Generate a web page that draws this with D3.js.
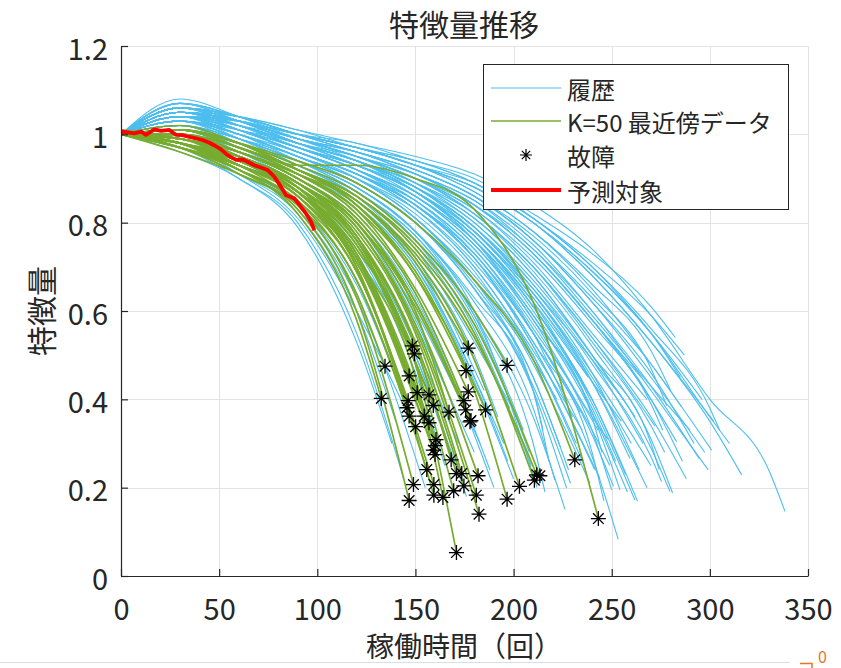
<!DOCTYPE html>
<html><head><meta charset="utf-8">
<script src="https://cdn.jsdelivr.net/npm/d3@7"></script>
<style>
body{margin:0;background:#fff;}
text{font-family:"Noto Sans CJK JP","Noto Sans",sans-serif;fill:#262626;}
</style>
</head><body>
<svg id="c" width="841" height="668"></svg>
<script>
// ---- tick values / labels ----
const xTicks = [0, 50, 100, 150, 200, 250, 300, 350];
const yTicks = [0, 0.2, 0.4, 0.6, 0.8, 1.0, 1.2];
const yTickLabels = ["0", "0.2", "0.4", "0.6", "0.8", "1", "1.2"];
const legendLabels = ["履歴", "K=50 最近傍データ", "故障", "予測対象"];

// sample times at which curve values were read
const gridX = [0, 30, 60, 90, 120, 150, 180, 210, 240, 270, 300, 330];

// ---- 履歴 (history) curves: values at gridX, then end point ----
const histY = [
 [1.00,0.97,0.91,0.82,0.60],
 [1.00,0.98,0.92,0.84,0.66],
 [1.00,0.99,0.94,0.87,0.74,0.46],
 [1.00,1.00,0.95,0.88,0.77,0.52],
 [1.00,1.01,0.96,0.89,0.79,0.57],
 [1.00,1.02,0.97,0.91,0.82,0.64],
 [1.00,1.01,0.98,0.92,0.85,0.71,0.45],
 [1.00,1.00,0.97,0.91,0.84,0.70,0.44],
 [1.00,1.00,0.95,0.89,0.76],
 [1.00,1.03,0.99,0.93,0.86,0.72],
 [1.00,1.03,0.99,0.94,0.88,0.78,0.62,0.38],
 [1.00,1.02,0.98,0.93,0.87,0.77,0.60,0.36],
 [1.00,1.04,1.00,0.95,0.89,0.80,0.65,0.42],
 [1.00,1.03,1.00,0.95,0.90,0.82,0.69,0.48],
 [1.00,1.05,1.01,0.96,0.91,0.84,0.72,0.52],
 [1.00,1.04,1.01,0.96,0.91,0.85,0.74,0.56,0.33],
 [1.00,1.03,1.00,0.95,0.90,0.83,0.71,0.53,0.27],
 [1.00,1.05,1.02,0.97,0.92,0.86,0.76,0.60,0.37],
 [1.00,1.06,1.03,0.98,0.94,0.88,0.79,0.64,0.44],
 [1.00,1.04,1.02,0.97,0.93,0.87,0.77,0.62,0.39],
 [1.00,1.05,1.01,0.97,0.92,0.86,0.76,0.61,0.40],
 [1.00,1.04,1.00,0.96,0.91,0.84,0.73,0.55,0.32],
 [1.00,1.03,1.00,0.95,0.90,0.81,0.68,0.50],
 [1.00,1.02,0.99,0.94,0.88,0.78,0.63,0.42],
 [1.00,1.01,0.98,0.93,0.87,0.76,0.58],
 [1.00,1.05,1.02,0.98,0.94,0.89,0.81,0.68,0.50,0.30],
 [1.00,1.04,1.02,0.97,0.93,0.88,0.80,0.66,0.48,0.27],
 [1.00,1.05,1.03,0.98,0.94,0.89,0.81,0.68,0.50,0.29],
 [1.00,1.06,1.03,0.99,0.95,0.90,0.82,0.69,0.52,0.31],
 [1.00,1.05,1.03,0.99,0.96,0.91,0.84,0.73,0.58,0.40],
 [1.00,1.07,1.04,1.00,0.96,0.92,0.86,0.76,0.63,0.48],
 [1.00,1.04,1.03,1.00,0.98,0.94,0.90,0.82,0.73,0.61],
 [1.00,1.05,1.03,0.99,0.95,0.91,0.85,0.75,0.60,0.43],
 [1.00,1.06,1.04,1.00,0.96,0.92,0.86,0.76,0.62,0.45],
 [1.00,1.05,1.03,0.99,0.96,0.91,0.85,0.74,0.60,0.42],
 [1.00,1.07,1.04,1.00,0.97,0.93,0.87,0.78,0.65,0.48],
 [1.00,1.06,1.04,1.00,0.97,0.93,0.88,0.80,0.68,0.53,0.35],
 [1.00,1.05,1.04,1.01,0.98,0.95,0.91,0.84,0.74,0.59,0.40,0.24],
 [1.00,1.06,1.04,1.01,0.97,0.94,0.89,0.81,0.70,0.55,0.36],
 [1.00,1.04,1.02,0.98,0.95,0.90,0.84,0.74,0.59,0.43],
 [1.00,1.05,1.03,0.99,0.96,0.92,0.86,0.77,0.64,0.47],
 [1.00,1.08,1.04,0.99,0.94,0.87,0.76,0.58,0.36],
 [1.00,1.05,1.01,0.96,0.91,0.83,0.70,0.50],
 [1.00,1.06,1.02,0.97,0.92,0.85,0.73,0.55],
 [1.00,1.04,1.02,0.98,0.94,0.88,0.79,0.66,0.49],
 [1.00,1.03,1.01,0.97,0.93,0.87,0.78,0.64,0.46],
 [1.00,1.07,1.03,0.98,0.93,0.87,0.77,0.61,0.40],
 [1.00,1.04,1.01,0.96,0.91,0.84,0.72,0.53,0.28],
 [1.00,1.03,1.00,0.95,0.89,0.80,0.65,0.42],
 [1.00,1.02,0.99,0.94,0.88,0.78,0.59],
 [1.00,1.04,1.00,0.94,0.87,0.76,0.56],
 [1.00,1.02,0.98,0.92,0.85,0.72,0.50],
 [1.00,1.05,1.02,0.98,0.94,0.89,0.82,0.70,0.54,0.36],
 [1.00,1.06,1.03,0.99,0.95,0.90,0.82,0.70,0.54],
 [1.00,1.05,1.03,0.99,0.95,0.89,0.80,0.67,0.50],
 [1.00,1.06,1.03,0.98,0.94,0.87,0.77,0.61],
 [1.00,1.01,0.96,0.90,0.80,0.58],
 [1.00,1.03,0.99,0.94,0.88,0.78,0.60],
 [1.00,1.04,1.03,1.00,0.97,0.93,0.88,0.80,0.69,0.55],
 [1.00,1.05,1.02,0.97,0.93,0.87,0.78,0.63,0.44],
 [1.00,1.07,1.04,1.00,0.96,0.92,0.86,0.76,0.62,0.46],
 [1.00,1.04,1.02,0.99,0.95,0.90,0.83,0.72,0.57,0.39],
 [1.00,1.06,1.02,0.98,0.94,0.88,0.79,0.65,0.46],
 [1.00,1.05,1.02,0.97,0.93,0.86,0.75,0.58,0.36],
 [1.00,1.03,1.01,0.98,0.94,0.88,0.78,0.63,0.44],
 [1.00,1.04,1.01,0.96,0.91,0.83,0.70,0.51],
 [1.00,1.02,0.99,0.95,0.89,0.80,0.66,0.45],
 [1.00,1.05,1.03,1.00,0.97,0.93,0.87,0.78,0.66,0.51],
 [1.00,1.06,1.04,1.00,0.97,0.93,0.88,0.80,0.68,0.53],
 [1.00,1.05,1.03,0.99,0.95,0.90,0.83,0.71,0.55],
 [1.00,1.04,1.01,0.97,0.92,0.86,0.75,0.59,0.37],
 [1.00,1.03,1.00,0.96,0.91,0.84,0.72,0.52],
 [1.00,1.05,1.03,0.99,0.95,0.91,0.84,0.73,0.58,0.40],
 [1.00,1.05,1.03,1.00,0.97,0.93,0.88,0.80,0.69,0.55],
 [1.00,1.04,1.00,0.95,0.90,0.81,0.67,0.45],
 [1.00,1.06,1.03,0.98,0.93,0.87,0.76,0.59,0.38],
 [1.00,1.06,1.03,0.99,0.95,0.90,0.82,0.70,0.53,0.34],
 [1.00,1.04,1.03,1.00,0.97,0.94,0.89,0.81,0.70,0.56,0.38],
 [1.00,1.05,1.02,0.98,0.94,0.88,0.78,0.64,0.45],
 [1.00,1.07,1.03,0.98,0.94,0.87,0.77,0.62],
 [1.00,0.96,0.90,0.79,0.53],
 [1.00,0.97,0.90,0.80,0.55],
 [1.00,0.98,0.91,0.81,0.60],
 [1.00,0.97,0.92,0.83,0.63],
 [1.00,0.99,0.94,0.86,0.72,0.50],
 [1.00,0.99,0.94,0.87,0.75,0.50],
 [1.00,1.02,0.97,0.90,0.80,0.60],
 [1.00,1.00,0.96,0.90,0.81,0.63],
 [1.00,1.03,0.98,0.92,0.84,0.70,0.45],
 [1.00,1.02,0.98,0.93,0.86,0.74,0.53],
 [1.00,1.04,0.99,0.93,0.86,0.75,0.55],
 [1.00,1.03,0.99,0.94,0.87,0.77,0.59,0.30],
 [1.00,1.05,1.01,0.96,0.90,0.81,0.67,0.49],
 [1.00,1.04,1.00,0.95,0.89,0.80,0.65,0.43],
 [1.00,1.05,1.02,0.97,0.92,0.84,0.72,0.55],
 [1.00,1.06,1.02,0.97,0.92,0.85,0.74,0.57],
 [1.00,1.05,1.01,0.96,0.91,0.84,0.73,0.55,0.33],
 [1.00,1.06,1.03,0.98,0.94,0.88,0.79,0.65,0.49],
 [1.00,1.05,1.03,0.99,0.96,0.91,0.84,0.73,0.58],
 [1.00,1.06,1.04,1.00,0.97,0.93,0.89,0.81,0.71,0.59]
];
const histEndT = [140,152,165,172,180,188,195,200,158,185,
 221,226.2,227,238.9,241.3,250,253.3,254.2,259.3,261.8,
 263.2,250.9,232,215,208,274.2,275.4,279.7,281,283.1,
 285.6,282.4,294.7,297.4,299.2,300.9,316.2,338.3,310,290,
 278,245,236,230,266,270,257,246,218,205,
 198,192,288,272,262,240,170,212,285,268,
 292,276,264,248,255,235,224,280,302,268,
 258,244,286,296,228,252,277,305,260,238,
 138,144,150,155,162,176,183,190,197,202,
 209,216,222,229,234,243,249,256,265,287];
const histEndV = [0.35,0.30,0.25,0.30,0.28,0.24,0.30,0.22,0.40,0.42,
 0.217,0.151,0.199,0.210,0.241,0.195,0.083,0.195,0.266,0.172,
 0.169,0.203,0.30,0.33,0.28,0.241,0.214,0.191,0.188,0.304,
 0.383,0.540,0.265,0.28,0.240,0.285,0.229,0.146,0.30,0.33,
 0.386,0.28,0.25,0.36,0.30,0.25,0.23,0.17,0.26,0.33,
 0.38,0.36,0.22,0.34,0.36,0.40,0.38,0.20,0.45,0.20,
 0.30,0.33,0.24,0.31,0.35,0.33,0.29,0.42,0.35,0.40,
 0.19,0.22,0.26,0.40,0.24,0.26,0.28,0.33,0.30,0.45,
 0.30,0.22,0.33,0.20,0.35,0.18,0.30,0.20,0.26,0.36,
 0.25,0.19,0.40,0.21,0.37,0.33,0.25,0.40,0.45,0.50];

// ---- K=50 最近傍データ (nearest neighbours): values at gridX, then failure point ----
const nearY = [
 [1.00,0.97,0.92,0.82,0.58],
 [1.00,0.98,0.93,0.84,0.64],
 [1.00,0.98,0.93,0.86,0.70],
 [1.01,0.97,0.92,0.85,0.69],
 [1.00,0.99,0.94,0.87,0.73],
 [1.00,0.96,0.91,0.84,0.67],
 [1.00,0.97,0.91,0.83,0.60],
 [1.00,0.99,0.95,0.89,0.77],
 [1.00,0.98,0.92,0.84,0.63],
 [1.00,1.00,0.95,0.88,0.76],
 [1.00,0.97,0.93,0.86,0.69],
 [1.00,0.98,0.94,0.87,0.72],
 [1.00,0.99,0.93,0.86,0.71],
 [1.00,0.98,0.92,0.85,0.67],
 [1.00,0.99,0.95,0.88,0.75],
 [1.00,0.97,0.93,0.87,0.72],
 [1.01,0.99,0.95,0.89,0.76],
 [1.00,0.98,0.94,0.87,0.71],
 [1.00,0.97,0.93,0.86,0.69],
 [1.00,0.98,0.93,0.87,0.70],
 [1.00,0.98,0.94,0.88,0.72],
 [1.00,0.99,0.94,0.87,0.73],
 [1.00,0.98,0.93,0.87,0.72,0.45],
 [1.00,1.00,0.96,0.90,0.80,0.60],
 [1.00,0.98,0.94,0.88,0.76,0.52],
 [1.00,0.98,0.94,0.87,0.75,0.48],
 [1.00,0.99,0.95,0.89,0.77,0.52],
 [1.00,0.98,0.93,0.87,0.74,0.48],
 [1.00,0.99,0.95,0.89,0.78,0.55],
 [1.00,0.98,0.94,0.88,0.77,0.53],
 [1.00,1.01,0.97,0.91,0.82,0.64],
 [1.00,1.00,0.96,0.90,0.81,0.62],
 [1.00,1.01,0.97,0.92,0.84,0.68],
 [1.00,1.01,0.98,0.92,0.85,0.71],
 [1.00,1.00,0.96,0.91,0.83,0.65],
 [1.00,0.99,0.96,0.90,0.81,0.62],
 [1.00,0.99,0.95,0.89,0.79,0.57],
 [1.00,1.00,0.96,0.90,0.80,0.59],
 [1.00,0.98,0.95,0.89,0.79,0.56],
 [1.00,1.01,0.97,0.92,0.84,0.69],
 [1.00,1.01,0.98,0.93,0.87,0.76,0.60],
 [1.00,0.99,0.96,0.91,0.83,0.68,0.42],
 [1.00,1.00,0.97,0.92,0.85,0.72,0.49],
 [1.00,1.00,0.97,0.92,0.86,0.74,0.55],
 [1.00,1.01,0.97,0.92,0.86,0.75,0.57],
 [1.00,1.01,0.98,0.94,0.89,0.80,0.67,0.49],
 [1.00,1.02,0.98,0.93,0.93,0.90,0.83,0.62],
 [1.00,0.99,0.96,0.91,0.85,0.73,0.54],
 [1.00,0.99,0.95,0.88,0.73],
 [1.00,0.98,0.95,0.89,0.80,0.61]
];
const failT = [132.6,134.5,145.7,146.3,146.8,146.8,146.8,148.4,149.0,149.5,
 150.1,150.9,154.5,155.8,156.9,156.9,159.1,159.1,159.4,159.4,
 160.0,160.5,164.0,167.1,168.2,169.5,170.9,170.9,173.6,174.7,
 174.7,175.6,175.8,176.9,176.9,178.3,181.0,181.9,182.4,185.7,
 196.7,196.7,203.0,210.6,213.4,231.2,243.2,211.8,160.2,177.8];
const failV = [0.402,0.475,0.381,0.397,0.453,0.362,0.171,0.521,0.207,0.503,
 0.338,0.415,0.362,0.241,0.410,0.347,0.386,0.285,0.207,0.183,
 0.275,0.309,0.178,0.371,0.263,0.193,0.232,0.053,0.232,0.204,
 0.397,0.376,0.465,0.516,0.417,0.352,0.183,0.227,0.140,0.376,
 0.477,0.174,0.203,0.217,0.227,0.263,0.130,0.229,0.295,0.349];

// ---- 予測対象 (prediction target) ----
const targetT = [0,0.85,6.8,10.2,12.7,17.0,20.4,24.6,28.0,31.4,34.8,38.2,41.6,45.0,48.4,50.9,54.3,58.6,62.0,64.5,67.9,71.3,74.7,78.1,81.5,84.1,88.3,91.7,94.2,96.8,98.5];
const targetV = [1.0,1.006,1.002,1.006,0.999,1.011,1.008,1.010,0.999,0.998,0.994,0.991,0.987,0.981,0.973,0.966,0.953,0.942,0.943,0.938,0.930,0.925,0.919,0.904,0.881,0.862,0.855,0.836,0.821,0.802,0.783];

// ---- colours ----
const cHist = "#4DBEEE", cNear = "#77AC30", cTarget = "#FF0000", cAxis = "#262626", cGrid = "#e3e3e3";

const svg = d3.select("#c");
const x = d3.scaleLinear().domain([0, 350]).range([121, 808]);
const y = d3.scaleLinear().domain([0, 1.2]).range([576, 46]);

svg.append("defs").append("clipPath").attr("id", "plot")
  .append("rect").attr("x", 121).attr("y", 46).attr("width", 687).attr("height", 530);

// grid
const grid = svg.append("g");
grid.selectAll(".gx").data(xTicks).join("line")
  .attr("x1", d => Math.round(x(d)) + 0.5).attr("x2", d => Math.round(x(d)) + 0.5)
  .attr("y1", y(1.2)).attr("y2", y(0)).attr("stroke", cGrid).attr("stroke-width", 1);
grid.selectAll(".gy").data(yTicks).join("line")
  .attr("y1", d => Math.round(y(d)) + 0.5).attr("y2", d => Math.round(y(d)) + 0.5)
  .attr("x1", x(0)).attr("x2", x(350)).attr("stroke", cGrid).attr("stroke-width", 1);

const line = d3.line().x(d => x(d[0])).y(d => y(d[1])).curve(d3.curveMonotoneX);
const plot = svg.append("g").attr("clip-path", "url(#plot)");

function curvePts(ys, T, V) {
  const p = ys.map((v, j) => [gridX[j], v]);
  p.push([T, V]);
  return p;
}

plot.append("g").selectAll("path").data(histY.map((ys, i) => curvePts(ys, histEndT[i], histEndV[i])))
  .join("path").attr("d", line).attr("fill", "none").attr("stroke", cHist).attr("stroke-width", 1.1);

plot.append("g").selectAll("path").data(nearY.map((ys, i) => curvePts(ys, failT[i], failV[i])))
  .join("path").attr("d", line).attr("fill", "none").attr("stroke", cNear).attr("stroke-width", 1.7);

const star = (r, d) => `M0,${-r}L0,${r}M${-r},0L${r},0M${-d},${-d}L${d},${d}M${-d},${d}L${d},${-d}`;
plot.append("g").selectAll("path").data(failT.map((t, i) => [t, failV[i]]))
  .join("path").attr("transform", d => `translate(${x(d[0])},${y(d[1])})`)
  .attr("d", star(7.5, 5.3)).attr("fill", "none").attr("stroke", "#000").attr("stroke-width", 1.3);

plot.append("path").datum(targetT.map((t, i) => [t, targetV[i]]))
  .attr("d", d3.line().x(d => x(d[0])).y(d => y(d[1])))
  .attr("fill", "none").attr("stroke", cTarget).attr("stroke-width", 3.8).attr("stroke-linejoin", "round");

// axes
const ax = svg.append("g").attr("transform", "translate(0,576)")
  .call(d3.axisBottom(x).tickValues(xTicks).tickSizeInner(-7).tickSizeOuter(0).tickPadding(20));
const ay = svg.append("g").attr("transform", "translate(121,0)")
  .call(d3.axisLeft(y).tickValues(yTicks).tickFormat((d, i) => yTickLabels[i]).tickSizeInner(-7).tickSizeOuter(0).tickPadding(13));
[ax, ay].forEach(g => {
  g.select(".domain").attr("stroke", cAxis).attr("stroke-width", 1.2);
  g.selectAll(".tick line").attr("stroke", cAxis).attr("stroke-width", 1.2);
  g.selectAll(".tick text").attr("fill", cAxis).style("font-size", "29px")
    .style("font-family", '"Noto Sans CJK JP","Noto Sans",sans-serif');
});
ax.selectAll(".tick text").attr("dy", null).attr("y", 31).attr("dominant-baseline", "central");
ay.selectAll(".tick text").attr("dy", null).attr("dominant-baseline", "central");

// titles
svg.append("text").attr("x", 464).attr("y", 23).attr("text-anchor", "middle")
  .attr("dominant-baseline", "central").style("font-size", "30px").text("特徴量推移");
svg.append("text").attr("x", 464).attr("y", 645).attr("text-anchor", "middle")
  .attr("dominant-baseline", "central").style("font-size", "28px").text("稼働時間（回）");
svg.append("text").attr("transform", "translate(40,311) rotate(-90)").attr("text-anchor", "middle")
  .attr("dominant-baseline", "central").style("font-size", "30px").text("特徴量");

// legend
const lg = svg.append("g");
lg.append("rect").attr("x", 483.5).attr("y", 64.5).attr("width", 305).attr("height", 145)
  .attr("fill", "#fff").attr("stroke", cAxis).attr("stroke-width", 1);
const rowY = [88, 121, 155, 190];
const legStyle = [[cHist, 1.1], [cNear, 1.7], null, [cTarget, 3.8]];
legendLabels.forEach((lab, i) => {
  if (legStyle[i]) {
    lg.append("line").attr("x1", 491).attr("x2", 561).attr("y1", rowY[i]).attr("y2", rowY[i])
      .attr("stroke", legStyle[i][0]).attr("stroke-width", legStyle[i][1]);
  } else {
    lg.append("path").attr("transform", `translate(526,${rowY[i]})`).attr("d", star(6, 4.2))
      .attr("fill", "none").attr("stroke", "#000").attr("stroke-width", 1.2);
  }
  lg.append("text").attr("x", 567).attr("y", rowY[i]).attr("dominant-baseline", "central")
    .style("font-size", "24px").text(lab);
});

// bottom window strip (screenshot chrome)
svg.append("line").attr("x1", 0).attr("x2", 790).attr("y1", 662.5).attr("y2", 662.5).attr("stroke", "#d6e0ec");
svg.append("path").attr("d", "M800,663.5H812V668").attr("fill", "none").attr("stroke", "#e8742a").attr("stroke-width", 1.5);
svg.append("text").attr("x", 818).attr("y", 668).attr("dominant-baseline", "text-after-edge")
  .style("font-size", "16px").style("fill", "#e8742a").text("0");
</script>
</body></html>
